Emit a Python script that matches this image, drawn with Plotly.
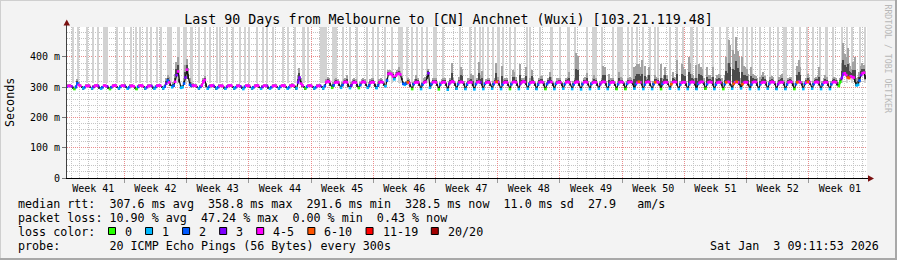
import plotly.graph_objects as go

# ---------------- values ----------------
TITLE = "Last 90 Days from Melbourne to [CN] Anchnet (Wuxi) [103.21.119.48]"
DAYS = 90
SAMPLES_PER_DAY = 6          # one sample every 4 hours
FIRST_WEEK_LINE_DAY = 6.45   # first week boundary, days after the left edge

# median rtt in ms, 6 samples per day
median_ms = [
    302, 304, 305, 303, 299, 294,  300, 313, 307, 305, 300, 296,  300, 304, 305, 304, 300, 296,
    301, 305, 306, 304, 299, 295,  300, 305, 305, 303, 299, 294,  300, 304, 306, 305, 300, 296,
    301, 305, 305, 304, 300, 295,  300, 304, 305, 303, 298, 294,  301, 305, 306, 304, 300, 296,
    300, 304, 305, 304, 299, 295,  301, 305, 306, 305, 300, 296,  302, 312, 322, 316, 308, 300,
    305, 318, 340, 352, 318, 298,  300, 312, 332, 358, 330, 308,  304, 306, 305, 304, 300, 296,
    301, 306, 318, 324, 306, 295,  301, 305, 306, 304, 300, 296,  300, 304, 305, 304, 299, 295,
    301, 305, 306, 305, 300, 296,  300, 304, 305, 303, 299, 294,  301, 305, 305, 304, 300, 296,
    300, 304, 306, 305, 300, 295,  301, 305, 305, 304, 299, 295,  300, 304, 305, 304, 300, 296,
    301, 305, 306, 304, 300, 295,  300, 305, 306, 305, 301, 296,  316, 332, 312, 306, 300, 296,
    301, 305, 306, 304, 300, 296,  300, 304, 305, 304, 300, 296,  304, 316, 320, 318, 308, 298,
    306, 315, 317, 316, 307, 298,  307, 316, 318, 316, 306, 297,  306, 315, 317, 315, 306, 297,
    307, 316, 318, 316, 307, 298,  306, 315, 317, 316, 306, 297,  306, 316, 318, 316, 308, 303,
    322, 344, 346, 343, 336, 326,  338, 344, 345, 342, 326, 311,  308, 312, 316, 314, 304, 294,
    310, 315, 317, 316, 308, 294,  309, 315, 318, 330, 346, 298,  310, 316, 318, 316, 307, 293,
    309, 315, 317, 316, 308, 292,  311, 316, 319, 317, 309, 295,  310, 316, 318, 316, 308, 294,
    309, 315, 317, 316, 307, 293,  310, 316, 318, 316, 308, 294,  311, 315, 317, 316, 309, 295,
    310, 316, 318, 317, 308, 294,  309, 315, 317, 316, 307, 294,  310, 316, 318, 316, 308, 294,
    311, 316, 319, 317, 309, 295,  310, 315, 317, 316, 308, 294,  309, 316, 318, 316, 307, 294,
    310, 316, 318, 317, 308, 294,  311, 315, 317, 316, 308, 295,  310, 316, 318, 316, 308, 294,
    309, 315, 318, 317, 307, 293,  310, 316, 318, 316, 308, 294,  311, 315, 317, 316, 309, 295,
    310, 316, 318, 317, 308, 294,  309, 315, 317, 316, 307, 294,  310, 316, 318, 316, 308, 294,
    311, 316, 318, 317, 309, 295,  310, 315, 318, 316, 308, 294,  309, 316, 318, 317, 307, 294,
    310, 316, 318, 316, 308, 294,  311, 315, 317, 316, 309, 295,  310, 316, 318, 317, 308, 294,
    309, 315, 317, 316, 307, 294,  310, 316, 318, 316, 308, 294,  311, 315, 318, 317, 309, 295,
    310, 316, 318, 316, 308, 294,  309, 315, 317, 316, 307, 294,  310, 316, 318, 317, 308, 295,
    311, 316, 318, 316, 309, 296,  310, 315, 317, 316, 308, 294,  309, 316, 318, 317, 307, 294,
    310, 315, 317, 316, 308, 295,  311, 316, 318, 316, 309, 294,  310, 315, 317, 316, 308, 294,
    309, 316, 318, 317, 307, 294,  310, 316, 318, 316, 308, 294,  311, 315, 318, 317, 309, 295,
    310, 316, 318, 316, 308, 294,  309, 315, 317, 316, 307, 294,  310, 316, 318, 316, 308, 304,
    318, 330, 344, 346, 340, 332,  330, 336, 334, 332, 318, 306,  308, 322, 340, 346, 348, 328,
]

# loss colour class seen on the median (index into LOSS_COLORS); None = no single class (black)
loss_class = [
    2, 4, 4, 3, None, 0,  2, 2, 4, 4, None, 1,  2, 4, 4, 4, None, 1,
    3, 4, 4, 3, None, 1,  2, 4, 4, 3, None, 0,  2, 4, 4, 4, None, 1,
    2, 4, 4, 3, None, 1,  2, 4, 4, 4, None, 0,  2, 4, 4, 4, None, 1,
    3, 4, 4, 3, None, 1,  2, 4, 4, 4, None, 1,  2, 3, 2, 4, None, 1,
    2, 4, 3, 4, None, 1,  1, 2, 3, 4, None, 2,  2, 4, 4, 4, None, 1,
    2, 4, 4, 4, None, 1,  2, 4, 4, 3, None, 1,  2, 4, 4, 4, None, 1,
    3, 4, 4, 4, None, 1,  2, 4, 4, 3, None, 1,  2, 4, 4, 4, None, 1,
    2, 4, 4, 4, None, 1,  3, 4, 4, 3, None, 1,  2, 4, 4, 4, None, 1,
    2, 4, 4, 4, None, 1,  2, 4, 4, 4, None, 1,  3, 3, 4, 4, None, 0,
    2, 4, 4, 4, None, 1,  2, 4, 4, 3, None, 1,  2, 4, 4, 4, None, 0,
    2, 4, 4, 4, None, 1,  2, 4, 4, 4, None, 1,  3, 4, 4, 4, None, 0,
    2, 4, 4, 4, None, 1,  2, 4, 4, 4, None, 1,  2, 4, 4, 4, None, 1,
    2, 4, 4, 4, 4, 1,     4, 4, 4, 4, None, 2,  1, 2, 5, 4, None, 0,
    2, 4, 4, 4, None, 1,  2, 4, 4, None, 3, 1,  2, 4, 4, 4, None, 0,
    2, 4, 4, 4, None, 1,  3, 4, 4, 4, None, 1,  2, 4, 4, 4, None, 1,
    2, 4, 4, 4, None, 1,  2, 4, 4, 3, None, 1,  2, 4, 4, 4, None, 1,
    2, 4, 5, 4, None, 1,  2, 4, 4, 4, None, 0,  2, 4, 4, 4, None, 1,
    3, 4, 4, 4, None, 1,  2, 4, 4, 4, None, 1,  2, 4, 4, 4, None, 0,
    2, 3, 3, 4, None, 1,  2, 4, 4, 4, None, 1,  2, 4, 4, 4, None, 1,
    2, 4, 4, 4, None, 1,  2, 4, 4, 4, None, 1,  2, 4, 4, 4, None, 1,
    3, 4, 4, 4, None, 1,  2, 4, 4, 4, None, 0,  2, 4, 4, 4, None, 0,
    2, 4, 4, 4, None, 1,  2, 4, 5, 4, None, 1,  2, 4, 4, 4, None, 1,
    2, 5, 4, 4, None, 0,  2, 4, 4, 4, None, 1,  5, 4, 4, 4, None, 1,
    2, 4, 4, 4, None, 1,  2, 4, 4, 4, None, 1,  2, 4, 4, 4, None, 0,
    2, 4, 4, 4, None, 1,  2, 4, 4, 4, None, 0,  2, 5, 4, 4, None, 1,
    5, 4, 5, 4, None, 1,  5, 4, 4, 4, None, 1,  2, 4, 4, 4, None, 1,
    2, 4, 4, 4, None, 1,  2, 4, 4, 4, None, 1,  3, 4, 4, 4, None, 1,
    2, 4, 4, 4, None, 0,  2, 5, 4, 4, None, 1,  2, 4, 5, 4, None, 1,
    2, 4, 4, 4, None, 1,  2, 4, 4, 4, None, 1,  2, 4, 4, 4, None, 0,
    0, 3, 3, 4, 4, 5,     5, 4, 4, 4, None, 1,  1, 2, 3, 4, 4, None,
]

# top of the smoke (slowest pings) in ms, 6 samples per day
smoke_top_ms = [
    306, 309, 310, 308, 304, 299,  306, 327, 316, 310, 305, 300,  305, 309, 310, 309, 305, 301,
    306, 310, 312, 309, 304, 300,  305, 310, 311, 308, 304, 299,  305, 309, 312, 310, 305, 301,
    306, 310, 311, 309, 305, 300,  305, 309, 310, 308, 303, 299,  306, 310, 312, 309, 305, 301,
    305, 309, 311, 309, 304, 300,  306, 311, 312, 310, 305, 301,  310, 330, 340, 334, 318, 306,
    318, 345, 385, 400, 340, 305,  306, 330, 372, 392, 362, 332,  318, 314, 311, 310, 305, 301,
    306, 314, 330, 338, 314, 300,  306, 310, 312, 309, 305, 301,  305, 309, 310, 309, 304, 300,
    306, 311, 312, 310, 305, 301,  305, 309, 311, 308, 304, 299,  306, 310, 311, 309, 305, 301,
    305, 309, 312, 310, 305, 300,  306, 310, 311, 309, 304, 300,  305, 309, 310, 309, 305, 301,
    306, 310, 312, 309, 305, 300,  305, 312, 315, 312, 306, 301,  340, 362, 332, 315, 305, 301,
    306, 311, 312, 309, 305, 301,  305, 309, 311, 309, 305, 301,  312, 328, 334, 330, 318, 304,
    316, 326, 330, 328, 316, 304,  318, 328, 330, 340, 315, 303,  316, 326, 330, 327, 315, 303,
    318, 328, 331, 328, 316, 304,  316, 327, 330, 332, 315, 303,  316, 328, 331, 328, 318, 308,
    332, 356, 358, 355, 350, 338,  350, 356, 366, 354, 338, 322,  318, 322, 330, 328, 316, 300,
    318, 328, 340, 330, 318, 300,  318, 330, 334, 345, 360, 306,  318, 330, 332, 330, 318, 300,
    318, 328, 332, 330, 318, 300,  320, 330, 379, 332, 318, 301,  318, 335, 366, 360, 320, 300,
    318, 330, 332, 344, 340, 300,  318, 330, 384, 340, 355, 300,  318, 328, 332, 330, 318, 301,
    320, 330, 380, 334, 320, 300,  371, 328, 332, 330, 318, 300,  318, 358, 351, 335, 318, 300,
    377, 330, 332, 330, 368, 301,  318, 330, 358, 332, 318, 300,  318, 330, 338, 338, 320, 300,
    318, 330, 351, 334, 318, 300,  318, 330, 332, 330, 318, 300,  318, 330, 335, 349, 320, 300,
    320, 332, 412, 404, 322, 300,  318, 330, 334, 348, 320, 300,  318, 330, 340, 332, 318, 301,
    320, 330, 371, 368, 320, 300,  345, 330, 332, 330, 318, 300,  320, 351, 334, 332, 318, 300,
    320, 332, 334, 332, 320, 366,  370, 377, 377, 366, 390, 300,  371, 335, 340, 366, 322, 300,
    320, 340, 335, 332, 320, 377,  330, 340, 366, 340, 322, 300,  320, 349, 335, 332, 390, 300,
    320, 377, 366, 360, 320, 300,  399, 380, 345, 340, 330, 373,  330, 377, 366, 360, 330, 300,
    366, 340, 340, 335, 368, 300,  330, 340, 345, 340, 330, 300,  340, 399, 380, 456, 440, 310,
    423, 410, 467, 420, 400, 330,  400, 370, 368, 360, 345, 310,  368, 345, 340, 338, 330, 300,
    335, 340, 351, 338, 325, 300,  320, 335, 338, 334, 320, 300,  320, 335, 340, 345, 325, 300,
    320, 332, 335, 334, 320, 300,  320, 370, 390, 368, 322, 300,  320, 332, 345, 334, 320, 300,
    320, 332, 335, 340, 368, 300,  320, 330, 340, 334, 320, 300,  320, 332, 335, 332, 325, 318,
    330, 380, 445, 410, 400, 429,  380, 370, 360, 385, 401, 330,  335, 350, 370, 379, 372, 352,
]

# light grey columns (pings off the top of the chart): centre day and width in days
gap_day = [
    0.67, 1.24, 2.25, 2.92, 3.49, 4.33, 5.62, 6.41, 7.20, 7.76, 8.21, 9.00, 9.45, 10.12, 10.57,
    11.53, 12.54, 13.27, 14.00, 14.85, 15.52, 16.09, 16.87, 17.21, 18.00, 18.67, 19.46, 20.02,
    20.47, 21.37, 22.05, 22.50, 23.17, 24.30, 24.86, 25.65, 26.60, 27.11, 28.85, 30.09, 31.05,
    31.84, 32.62, 33.75, 34.42, 34.99, 35.77, 36.56, 37.52, 38.25, 38.81, 39.37, 39.94, 40.50,
    41.40, 42.30, 44.21, 45.34, 45.90, 46.46, 46.80, 47.36, 47.92, 48.54, 49.05, 49.84, 50.40,
    51.75, 52.09, 53.21, 54.50, 55.46, 56.42, 57.15, 58.50, 59.34, 60.19, 61.42, 62.20, 63.11,
    63.56, 64.12, 64.80, 65.59, 66.15, 66.49, 67.84, 68.62, 69.30, 70.25, 70.87, 71.55, 72.67,
    73.46, 74.25, 74.92, 76.05, 76.50, 77.06, 77.96, 79.08, 79.98, 80.77, 81.67, 82.46, 83.25,
    83.92, 84.71, 85.44, 86.17, 87.18, 87.74, 88.30, 89.21, 89.77,
]
gap_width_day = [
    0.15, 0.15, 0.15, 0.15, 0.15, 0.50, 0.15, 0.15, 0.15, 0.15, 0.15, 0.15, 0.15, 0.15, 0.15,
    0.50, 0.30, 0.40, 0.30, 0.15, 0.15, 0.15, 0.15, 0.15, 0.15, 0.15, 0.15, 0.15,
    0.15, 0.15, 0.15, 0.15, 0.15, 0.15, 0.15, 0.15, 0.30, 0.15, 0.70, 0.50, 0.15,
    0.15, 0.15, 0.15, 0.15, 0.15, 0.15, 0.15, 0.50, 0.15, 0.15, 0.15, 0.15, 0.15,
    0.40, 0.15, 0.15, 0.15, 0.15, 0.15, 0.15, 0.15, 0.15, 0.30, 0.15, 0.15, 0.15,
    0.15, 0.15, 0.15, 0.30, 0.15, 0.30, 0.15, 0.15, 0.50, 0.15, 0.15, 0.60, 0.15,
    0.15, 0.15, 0.15, 0.15, 0.15, 0.15, 0.15, 0.15, 0.15, 0.30, 0.15, 0.15, 0.15,
    0.15, 0.15, 0.15, 0.15, 0.15, 0.15, 0.15, 0.15, 0.15, 0.40, 0.15, 0.15, 0.15,
    0.15, 0.15, 0.30, 0.15, 0.15, 0.15, 0.15, 0.15, 0.15,
]

week_labels = ["Week 41", "Week 42", "Week 43", "Week 44", "Week 45", "Week 46", "Week 47",
               "Week 48", "Week 49", "Week 50", "Week 51", "Week 52", "Week 01"]
y_ticks = [0, 100, 200, 300, 400]
y_tick_text = ["0", "100 m", "200 m", "300 m", "400 m"]

LOSS_LABELS = ["0", "1", "2", "3", "4-5", "6-10", "11-19", "20/20"]
LOSS_COLORS = ["#26ff00", "#00b8ff", "#0059ff", "#7e00ff", "#ff00ff", "#ff5500", "#ff0000", "#a10000"]

LEGEND_LINES = [
    "median rtt:  307.6 ms avg  358.8 ms max  291.6 ms min  328.5 ms now  11.0 ms sd  27.9   am/s",
    "packet loss: 10.90 % avg  47.24 % max  0.00 % min  0.43 % now",
]
LOSS_TITLE = "loss color:"
PROBE_LINE = "probe:       20 ICMP Echo Pings (56 Bytes) every 300s"
STAMP = "Sat Jan  3 09:11:53 2026"
CREDIT = "RRDTOOL / TOBI OETIKER"

# ---------------- figure ----------------
W, H = 897, 260
PL, PT, PW, PH = 67, 27, 800, 151
Y_TOP = 499
MONO = "DejaVu Sans Mono"


def px(x):
    return (x - PL) / PW


def py(y):
    return (PT + PH - y) / PH


t = [i / SAMPLES_PER_DAY for i in range(len(median_ms))]
step = 1 / SAMPLES_PER_DAY
week_lines = [FIRST_WEEK_LINE_DAY + 7 * k for k in range(12)]
week_mid = [FIRST_WEEK_LINE_DAY - 3.5 + 7 * k for k in range(len(week_labels))]

fig = go.Figure()

GAP_BASE, GAP_TOP = 314, 900
fig.add_trace(go.Bar(
    x=gap_day, y=[GAP_TOP - GAP_BASE] * len(gap_day), base=GAP_BASE, width=gap_width_day,
    marker=dict(color="#d2d2d2", line=dict(width=0)), hoverinfo="skip"))

# smoke: outer (light) and inner (dark) part
fig.add_trace(go.Bar(
    x=t, y=[s - m + 3 for m, s in zip(median_ms, smoke_top_ms)], base=[m - 3 for m in median_ms],
    width=step, marker=dict(color="#a2a2a2", line=dict(width=0)), hoverinfo="skip"))
fig.add_trace(go.Bar(
    x=t, y=[0.45 * (s - m) + 2 for m, s in zip(median_ms, smoke_top_ms)], base=[m - 2 for m in median_ms],
    width=step, marker=dict(color="#4a4a4a", line=dict(width=0)), hoverinfo="skip"))

# median line
fig.add_trace(go.Scatter(x=t, y=median_ms, mode="lines", line=dict(color="#111111", width=1.2),
                         hoverinfo="skip"))
for k, col in enumerate(LOSS_COLORS):
    yk = [m if c == k else None for m, c in zip(median_ms, loss_class)]
    if all(v is None for v in yk):
        continue
    fig.add_trace(go.Scatter(x=t, y=yk, mode="lines+markers", connectgaps=False,
                             line=dict(color=col, width=1.6),
                             marker=dict(color=col, size=2.6, symbol="square", line=dict(width=0)),
                             hoverinfo="skip"))

# invisible trace so the label axis is drawn
fig.add_trace(go.Scatter(x=[0, DAYS], y=[0, 0], xaxis="x2", mode="markers",
                         marker=dict(opacity=0), hoverinfo="skip"))

GRID_MAJOR = "#eb8c8c"
GRID_MINOR = "#c4c4c4"

fig.update_layout(
    width=W, height=H, margin=dict(l=PL, r=W - PL - PW, t=PT, b=H - PT - PH, pad=0),
    paper_bgcolor="#f3f3f3", plot_bgcolor="#ffffff",
    showlegend=False, barmode="overlay", bargap=0, hovermode=False,
    font=dict(family=MONO, size=10, color="#000000"),
    title=dict(text=TITLE, x=0.5, xanchor="center", y=1 - 19 / H, yanchor="middle",
               font=dict(family=MONO, size=13.3, color="#000000")),
    xaxis=dict(range=[0, DAYS], tickvals=week_lines, showticklabels=False,
               ticks="outside", ticklen=4, tickcolor="#9a9a9a",
               showgrid=True, gridcolor=GRID_MAJOR, griddash="1px,1px", gridwidth=1,
               zeroline=False, showline=False,
               minor=dict(tick0=FIRST_WEEK_LINE_DAY % 1, dtick=1, showgrid=True,
                          gridcolor=GRID_MINOR, griddash="1px,1px", ticks="")),
    xaxis2=dict(overlaying="x", anchor="y", side="bottom", range=[0, DAYS],
                tickvals=week_mid, ticktext=week_labels, showgrid=False, ticks="",
                ticklabelstandoff=3,
                zeroline=False, showline=False, tickfont=dict(family=MONO, size=10)),
    yaxis=dict(range=[0, Y_TOP], tickvals=y_ticks, ticktext=y_tick_text,
               ticks="outside", ticklen=4, tickcolor="#777777",
               showgrid=True, gridcolor=GRID_MAJOR, griddash="1px,1px",
               zeroline=False, showline=False, tickfont=dict(family=MONO, size=10),
               minor=dict(tick0=0, dtick=20, showgrid=True, gridcolor=GRID_MINOR,
                          griddash="1px,1px", ticks="")),
)

shapes = []
# axis lines
shapes.append(dict(type="line", xref="paper", yref="paper", x0=px(66.5), x1=px(66.5),
                   y0=py(178), y1=py(24), line=dict(color="#404040", width=1)))
shapes.append(dict(type="line", xref="paper", yref="paper", x0=px(66), x1=px(869),
                   y0=py(178.5), y1=py(178.5), line=dict(color="#000000", width=1)))
# arrow heads
shapes.append(dict(type="path", xref="paper", yref="paper",
                   path=f"M {px(63.5)} {py(25.5)} L {px(70)} {py(25.5)} L {px(66.75)} {py(19.5)} Z",
                   fillcolor="#7a1010", line=dict(width=0)))
shapes.append(dict(type="path", xref="paper", yref="paper",
                   path=f"M {px(868)} {py(175.3)} L {px(868)} {py(181.7)} L {px(874)} {py(178.5)} Z",
                   fillcolor="#7a1010", line=dict(width=0)))
# image frame
shapes.append(dict(type="line", xref="paper", yref="paper", x0=px(0), x1=px(W),
                   y0=py(0.5), y1=py(0.5), line=dict(color="#cfcfcf", width=1)))
shapes.append(dict(type="line", xref="paper", yref="paper", x0=px(0.5), x1=px(0.5),
                   y0=py(0), y1=py(H), line=dict(color="#cfcfcf", width=1)))
shapes.append(dict(type="line", xref="paper", yref="paper", x0=px(0), x1=px(W),
                   y0=py(H - 1), y1=py(H - 1), line=dict(color="#a8a8a8", width=2)))
shapes.append(dict(type="line", xref="paper", yref="paper", x0=px(W - 1), x1=px(W - 1),
                   y0=py(0), y1=py(H), line=dict(color="#a8a8a8", width=2)))

annotations = []
LEG_SIZE = 11.7
LEG_X = 16
for i, line in enumerate(LEGEND_LINES):
    annotations.append(dict(xref="paper", yref="paper", x=px(LEG_X), y=py(204 + 14 * i),
                            xanchor="left", yanchor="middle", showarrow=False, text=line,
                            font=dict(family=MONO, size=LEG_SIZE, color="#000000")))
annotations.append(dict(xref="paper", yref="paper", x=px(LEG_X), y=py(232),
                        xanchor="left", yanchor="middle", showarrow=False, text=LOSS_TITLE,
                        font=dict(family=MONO, size=LEG_SIZE, color="#000000")))
bx = 108.0
for lab, col in zip(LOSS_LABELS, LOSS_COLORS):
    shapes.append(dict(type="rect", xref="paper", yref="paper", x0=px(bx + 0.5), x1=px(bx + 7.5),
                       y0=py(234.5), y1=py(227.5), fillcolor=col,
                       line=dict(color="#000000", width=1)))
    annotations.append(dict(xref="paper", yref="paper", x=px(bx + 15), y=py(232),
                            xanchor="left", yanchor="middle", showarrow=False, text=lab,
                            font=dict(family=MONO, size=LEG_SIZE, color="#000000")))
    bx += 30 + 7.05 * len(lab)
annotations.append(dict(xref="paper", yref="paper", x=px(LEG_X), y=py(246),
                        xanchor="left", yanchor="middle", showarrow=False, text=PROBE_LINE,
                        font=dict(family=MONO, size=LEG_SIZE, color="#000000")))
annotations.append(dict(xref="paper", yref="paper", x=px(881), y=py(246),
                        xanchor="right", yanchor="middle", showarrow=False, text=STAMP,
                        font=dict(family=MONO, size=LEG_SIZE, color="#000000")))
annotations.append(dict(xref="paper", yref="paper", x=px(10), y=py(103),
                        xanchor="center", yanchor="middle", showarrow=False, text="Seconds",
                        textangle=-90, font=dict(family=MONO, size=LEG_SIZE, color="#000000")))
annotations.append(dict(xref="paper", yref="paper", x=px(887.5), y=py(59),
                        xanchor="center", yanchor="middle", showarrow=False, text=CREDIT,
                        textangle=90, font=dict(family=MONO, size=8.2, color="#b8b8b8")))

fig.update_layout(shapes=shapes, annotations=annotations)
fig.write_html("out.html")
